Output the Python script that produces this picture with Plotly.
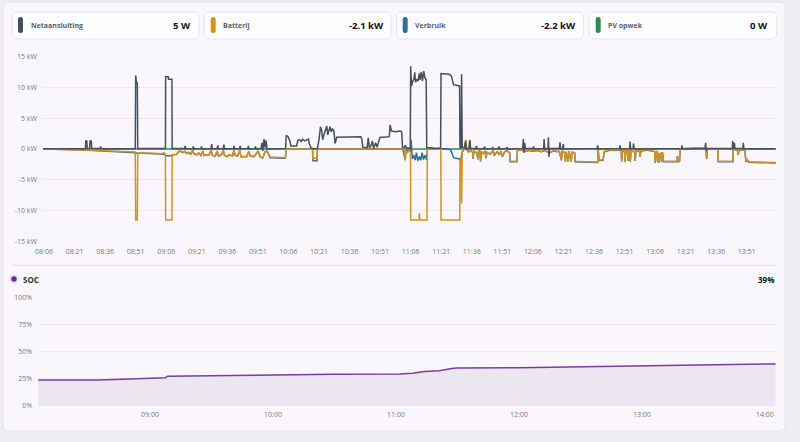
import plotly.graph_objects as go
import pandas as pd

# ---------------- data (time = minutes after 08:00) ----------------
BASE = pd.Timestamp("2024-05-01 08:00")

net_points = [
    (5.5, 0.05), (26.3, 0.05), (26.5, 1.3), (27.0, 1.3), (27.2, 0.1), (28.4, 0.1), (28.6, 1.3), (29.2, 1.3),
    (29.4, 0.1), (33.6, 0.1), (33.8, 0.4), (34.1, 0.05), (50.8, 0.05), (51.0, 11.9), (51.4, 10.7), (51.8, 10.7),
    (52.0, 0.1), (65.6, 0.1), (65.7, 11.7), (67.0, 11.7), (67.1, 11.3), (68.8, 11.3), (68.9, 0.1),
    (75.0, 0.1), (75.3, 0.5), (75.6, 0.0), (79.0, 0.1), (79.3, 0.4), (79.6, 0.0), (83.0, 0.1), (83.3, 0.4),
    (83.6, 0.0), (88.0, 0.1), (88.3, 0.8), (88.6, 0.0), (91.0, 0.1), (91.3, 0.6), (91.6, 0.0), (94.0, 0.1),
    (94.3, 0.7), (94.6, 0.0), (99.0, 0.1), (99.3, 0.5), (99.6, 0.0), (102.0, 0.1), (102.3, 0.5), (102.6, 0.0),
    (106.0, 0.1), (106.3, 0.5), (106.6, 0.0), (109.5, 0.1), (109.8, 0.4), (110.1, 0.0), (112.5, 0.1),
    (113.0, 1.0), (113.4, -0.3), (114.0, 1.6), (114.5, 0.2), (115.0, 1.4), (115.5, 0.0), (124.6, 0.1),
    (124.9, 2.2), (125.8, 2.0), (126.6, 1.4), (127.2, 0.5), (130.0, 0.5), (130.6, 1.4), (131.5, 1.5),
    (132.2, 1.2), (133.0, 1.6), (134.0, 1.3), (135.0, 1.5), (135.8, 1.6), (136.2, 0.9), (137.0, 0.2),
    (137.8, 0.05), (140.2, 0.1), (141.0, 1.5), (141.7, 3.6), (142.3, 3.0), (142.8, 1.5), (143.5, 2.4),
    (144.8, 3.7), (145.3, 2.3), (145.8, 3.0), (146.4, 3.6), (147.0, 2.8), (147.6, 3.3), (148.3, 2.9),
    (148.9, 0.9), (149.7, 1.9), (152.0, 1.9), (153.0, 2.0), (155.0, 1.9), (157.0, 2.0), (159.0, 1.9),
    (161.5, 2.0), (162.0, 1.6), (162.5, 0.3), (164.6, 0.2), (165.2, 1.8), (165.7, 0.2), (166.5, 0.5),
    (167.2, 1.3), (167.8, 0.1), (168.8, 1.0), (169.5, 0.3), (170.5, 1.4), (171.0, 1.9), (173.0, 1.9),
    (175.5, 2.0), (175.9, 3.9), (176.6, 2.9), (178.5, 2.8), (180.8, 2.9), (181.6, 2.8), (182.0, 0.2),
    (183.0, 0.3), (183.3, 0.6), (184.2, 0.1), (185.8, 0.2),
    (186.0, 13.4), (186.4, 10.2), (187.0, 11.0), (187.6, 11.3), (188.0, 12.4), (188.4, 10.8), (189.0, 11.3),
    (189.6, 11.0), (190.2, 12.2), (190.6, 11.2), (191.2, 12.5), (191.8, 11.0), (192.4, 12.6), (193.0, 11.5),
    (193.6, 11.2), (193.9, 0.2), (196.0, 0.2), (198.0, 0.1), (200.7, 0.15),
    (200.9, 12.2), (205.0, 12.1), (206.0, 11.8), (207.0, 10.4), (210.0, 10.2), (210.2, 0.2), (210.8, 0.2),
    (211.0, 12.1), (211.3, 0.3), (212.5, 0.2), (213.0, 1.2), (213.3, 0.0), (214.8, 0.1), (215.1, 1.4),
    (215.4, 0.1), (218.0, 0.1), (218.3, 0.5), (218.6, 0.0), (222.0, 0.1), (222.3, 0.4), (222.6, 0.0),
    (226.0, 0.1), (226.3, 0.3), (226.6, 0.0), (229.0, 0.1), (229.3, 0.4), (229.6, 0.0), (233.0, 0.1),
    (233.3, 0.3), (233.6, 0.0), (241.0, 0.1), (241.3, 1.6), (241.6, -0.6), (242.0, 1.0), (242.3, 0.1),
    (246.0, 0.1), (246.3, 0.4), (246.6, 0.0), (251.3, 0.1), (251.5, 1.6), (251.8, 0.0), (253.4, 0.1),
    (253.6, 1.9), (253.9, -1.3), (254.2, 0.1), (259.0, 0.1), (259.3, 1.1), (259.6, 0.0), (260.6, 0.1),
    (260.9, 0.8), (261.2, 0.0), (277.5, 0.1), (277.8, 0.6), (278.1, 0.0), (288.6, 0.1), (288.8, 0.6),
    (289.0, 0.0), (293.5, 0.1), (293.7, 1.2), (294.0, 0.0), (295.2, 0.1), (295.4, 0.9), (295.7, 0.0),
    (319.0, 0.1), (319.2, 0.6), (319.5, 0.0), (330.5, 0.1), (330.8, 1.0), (331.1, -0.3), (331.4, 0.1),
    (343.9, 0.1), (344.1, 1.3), (344.4, 0.0), (344.9, 1.0), (345.2, 0.1), (349.1, 0.1), (349.3, 1.0),
    (349.6, 0.0), (365.2, 0.05),
]

bat_points = [
    (5.5, 0.0), (10, -0.02), (15, -0.05), (20, -0.1), (25, -0.15), (30, -0.2), (35, -0.3), (40, -0.35),
    (45, -0.45), (50.8, -0.5), (51.0, -11.5), (51.8, -11.5), (52.0, -0.6), (56, -0.6), (60, -0.7),
    (64, -0.75), (65.0, -0.6), (65.6, -0.9), (65.7, -11.5), (68.8, -11.5), (68.9, -0.9), (71, -0.85),
    (72, -0.4), (73, -0.3), (74, -0.5), (75.2, -0.35), (76, -0.7), (77, -0.5), (78, -0.8), (79, -0.1),
    (79.5, -0.7), (81, -0.9), (82, -0.6), (83, -1.0), (84, -0.3), (84.5, -1.0), (86, -1.0), (87, -0.9),
    (88, -0.2), (88.6, -1.0), (90, -1.1), (91, -0.3), (91.6, -1.1), (93, -0.9), (94, -0.2), (94.6, -1.0),
    (96, -1.2), (97, -0.9), (98.5, -1.1), (99.2, -0.2), (99.8, -1.0), (101, -1.1), (102, -0.2),
    (102.7, -1.2), (105.5, -1.2), (106.5, -0.4), (107.2, -1.1), (109, -1.2), (110, -0.8), (111, -0.3),
    (112.3, -1.3), (113.4, -1.4), (114.5, -0.4), (115.5, -0.3), (117, -1.3), (120, -1.3), (124.5, -1.4),
    (124.8, 0.0), (137.8, 0.0), (138.0, -1.5), (140.0, -1.5), (140.2, 0.0), (182.2, 0.0), (183.0, -0.3),
    (183.3, -1.8), (183.7, -0.3), (184.5, -0.6), (185.0, -0.2), (185.9, -0.5),
    (186.0, -11.5), (190.1, -11.5), (190.3, -10.4), (190.5, -11.5), (194.0, -11.5), (194.2, 0.0),
    (200.8, 0.0), (200.9, -11.5), (210.1, -11.5), (210.2, -2.0), (210.7, -1.5), (211.0, -8.8),
    (211.3, -0.5), (212.5, 0.2), (213.0, 1.5), (213.5, 0.0), (214.5, -0.5), (215.0, 1.5), (215.4, -0.3),
    (216.4, -0.4), (216.6, -1.5), (217.0, -0.3), (218.5, -0.6), (219.0, -1.6), (219.4, -0.2), (220.0, -0.3),
    (220.3, -1.9), (220.6, -0.4), (221.5, -0.7), (222.5, -0.3), (223.0, -1.4), (223.4, -0.5), (225.0, -0.8),
    (226.5, -0.2), (227.0, -1.0), (228.5, -0.4), (229.5, -0.9), (230.3, -0.3), (231.0, -1.2), (232.0, -0.5),
    (233.0, -0.2), (234.6, -0.6), (234.8, -2.0), (238.2, -2.0), (238.4, -0.2), (240.0, -0.1), (242.0, -0.4),
    (244.0, -0.2), (246.0, -0.3), (248.0, -0.2), (250.0, -0.4), (252.0, -0.2), (254.0, -0.6), (256.0, -0.3),
    (259.0, -0.4), (260.0, -1.8), (260.4, -0.3), (261.5, -0.5), (262.0, -2.0), (262.4, -0.4), (263.3, -2.0),
    (263.7, -0.3), (264.8, -2.0), (265.2, -0.5), (266.5, -0.6), (266.7, -2.0), (272.0, -2.05), (277.8, -2.1),
    (278.0, 0.0), (278.5, -1.8), (280.5, -1.7), (281.0, -0.4), (282.2, -0.3), (284.0, -0.1), (286.0, -0.2),
    (288.5, -0.1), (289.4, -0.3), (289.6, -2.0), (290.0, -0.3), (291.0, -0.2), (291.2, -2.0), (291.6, -0.2),
    (292.4, -0.3), (292.6, -1.9), (293.0, -0.3), (293.6, -0.2), (293.8, -2.0), (294.2, -0.3), (296.0, -0.4),
    (296.2, -1.9), (296.6, -0.2), (298.3, -0.3), (298.6, -1.2), (299.0, -0.3), (302.0, -0.1), (305.0, -0.3),
    (305.8, -0.4), (306.0, -2.2), (306.4, -0.5), (307.0, -0.4), (307.2, -2.1), (307.6, -0.6), (308.0, -2.2),
    (308.4, -0.8), (309.0, -0.6), (309.2, -2.1), (309.6, -0.5), (310.2, -2.0), (315.0, -2.0), (316.6, -2.0),
    (317.0, -1.1), (317.4, -2.0), (318.0, -1.9), (318.3, 0.0), (320.0, 0.1), (324.0, 0.2), (328.0, 0.2),
    (331.0, 0.1), (331.3, -1.5), (331.7, 0.0), (336.8, 0.0), (337.0, -2.0), (344.2, -2.0), (344.4, 0.0),
    (346.5, -0.2), (346.8, -0.9), (347.2, -0.1), (349.5, -0.1), (350.1, -0.3), (350.6, -2.0), (351.0, -1.6),
    (351.8, -2.05), (358.0, -2.1), (365.2, -2.2),
]

verb_points = [
    (5.5, -0.02), (15, -0.07), (25, -0.17), (35, -0.32), (45, -0.48), (50.8, -0.55), (51.0, -0.6),
    (51.8, -0.7), (52.0, -0.65), (60, -0.75), (64, -0.8), (65.6, -0.95), (65.7, -1.1), (68.8, -1.1),
    (68.9, -0.95), (71, -0.9), (72, -0.45), (73, -0.35), (74, -0.55), (75.2, -0.4), (76, -0.75), (77, -0.55),
    (78, -0.85), (79, -0.15), (79.5, -0.75), (81, -0.95), (82, -0.65), (83, -1.05), (84, -0.35),
    (84.5, -1.05), (86, -1.05), (87, -0.95), (88, -0.25), (88.6, -1.05), (90, -1.15), (91, -0.35),
    (91.6, -1.15), (93, -0.95), (94, -0.25), (94.6, -1.05), (96, -1.25), (97, -0.95), (98.5, -1.15),
    (99.2, -0.25), (99.8, -1.05), (101, -1.15), (102, -0.25), (102.7, -1.25), (105.5, -1.25), (106.5, -0.45),
    (107.2, -1.15), (109, -1.25), (110, -0.85), (111, -0.35), (112.3, -1.35), (113.4, -1.45), (114.5, -0.45),
    (115.5, -0.35), (117, -1.4), (120, -1.4), (124.5, -1.5), (124.8, 0.0),
    (137.8, 0.0), (138.0, -1.9), (140.0, -1.9), (140.2, 0.0), (182.2, 0.0), (183.3, -1.8), (183.7, -0.3),
    (185.0, -0.2), (185.9, -0.4), (186.2, 1.5), (186.8, -1.6), (187.5, -1.0), (188.2, -1.8), (188.8, -0.6),
    (189.5, -1.9), (190.3, -1.2), (191.0, -1.8), (191.6, -0.6), (192.3, -1.7), (193.0, -1.0), (193.8, -1.8),
    (194.2, 0.1), (200.9, 0.1), (205.0, 0.0), (206.0, -0.4), (207.0, -1.4), (210.0, -1.6), (210.2, -1.9),
    (210.7, -1.5), (211.0, -1.0),
    (211.3, -0.55), (212.5, 0.1), (213.0, 1.4), (213.5, -0.05), (214.5, -0.55), (215.0, 1.4), (215.4, -0.35),
    (216.4, -0.45), (216.6, -1.6), (217.0, -0.35), (218.5, -0.65), (219.0, -1.7), (219.4, -0.25),
    (220.0, -0.35), (220.3, -2.0), (220.6, -0.45), (221.5, -0.75), (222.5, -0.35), (223.0, -1.5),
    (223.4, -0.55), (225.0, -0.85), (226.5, -0.25), (227.0, -1.05), (228.5, -0.45), (229.5, -0.95),
    (230.3, -0.35), (231.0, -1.25), (232.0, -0.55), (233.0, -0.25), (234.6, -0.65), (234.8, -2.08),
    (238.2, -2.08), (238.4, -0.25), (240.0, -0.15), (242.0, -0.45), (244.0, -0.25), (246.0, -0.35),
    (248.0, -0.25), (250.0, -0.45), (252.0, -0.25), (254.0, -0.65), (256.0, -0.35), (259.0, -0.45),
    (260.0, -1.85), (260.4, -0.35), (261.5, -0.55), (262.0, -2.05), (262.4, -0.45), (263.3, -2.05),
    (263.7, -0.35), (264.8, -2.05), (265.2, -0.55), (266.5, -0.65), (266.7, -2.08), (272.0, -2.13),
    (277.8, -2.18), (278.0, -0.05), (278.5, -1.88), (280.5, -1.78), (281.0, -0.45), (282.2, -0.35),
    (284.0, -0.15), (286.0, -0.25), (288.5, -0.15), (289.4, -0.35), (289.6, -2.05), (290.0, -0.35),
    (291.0, -0.25), (291.2, -2.05), (291.6, -0.25), (292.4, -0.35), (292.6, -1.95), (293.0, -0.35),
    (293.6, -0.25), (293.8, -2.05), (294.2, -0.35), (296.0, -0.45), (296.2, -1.95), (296.6, -0.25),
    (298.3, -0.35), (298.6, -1.25), (299.0, -0.35), (302.0, -0.15), (305.0, -0.35), (305.8, -0.45),
    (306.0, -2.25), (306.4, -0.55), (307.0, -0.45), (307.2, -2.15), (307.6, -0.65), (308.0, -2.25),
    (308.4, -0.85), (309.0, -0.65), (309.2, -2.15), (309.6, -0.55), (310.2, -2.08), (315.0, -2.08),
    (316.6, -2.08), (317.0, -1.15), (317.4, -2.08), (318.0, -1.98), (318.3, -0.05), (320.0, 0.05),
    (324.0, 0.15), (328.0, 0.15), (331.0, 0.05), (331.3, -1.6), (331.7, -0.05), (336.8, -0.05),
    (337.0, -2.08), (344.2, -2.08), (344.4, -0.05), (346.5, -0.25), (346.8, -0.95), (347.2, -0.15),
    (349.5, -0.15), (350.1, -0.35), (350.6, -2.08), (351.0, -1.65), (351.8, -2.13), (358.0, -2.18),
    (365.2, -2.28),
]

pv_points = [(5.5, 0.0), (365.2, 0.0)]

soc_points = [
    (5.5, 23.9), (35, 24.0), (50, 24.8), (60, 25.5), (67.5, 26.0), (68.5, 27.4), (90, 28.0), (120, 28.7),
    (150, 29.2), (182, 29.4), (186, 29.5), (188, 30.2), (194, 31.8), (196, 32.1), (201, 32.4), (208, 34.8),
    (210, 35.0), (240, 35.3), (270, 36.0), (300, 36.7), (330, 37.5), (365.2, 38.8),
]

header_labels = ["Netaansluiting", "Batterij", "Verbruik", "PV opwek"]
header_values = ["5 W", "-2.1 kW", "-2.2 kW", "0 W"]
header_colors = ["#454f5e", "#d4911e", "#2c6f98", "#2e8a56"]
soc_label = "SOC"
soc_value = "39%"

kw_ticks = [15, 10, 5, 0, -5, -10, -15]
kw_ticktext = [f"{v} kW" for v in kw_ticks]
pct_ticks = [0, 25, 50, 75, 100]
pct_ticktext = [f"{v}%" for v in pct_ticks]

# ---------------- helpers ----------------
W, H = 800, 442


def tm(minutes):
    return [BASE + pd.Timedelta(minutes=m) for m in minutes]


def split(points):
    return tm([p[0] for p in points]), [p[1] for p in points]


def px(x):
    return x / W


def py(y):
    return 1 - y / H


def rr(x0, y0, x1, y1, r):
    def P(x, y):
        return f"{px(x):.5f},{py(y):.5f}"
    return (f"M {P(x0 + r, y0)} L {P(x1 - r, y0)} Q {P(x1, y0)} {P(x1, y0 + r)} "
            f"L {P(x1, y1 - r)} Q {P(x1, y1)} {P(x1 - r, y1)} L {P(x0 + r, y1)} "
            f"Q {P(x0, y1)} {P(x0, y1 - r)} L {P(x0, y0 + r)} Q {P(x0, y0)} {P(x0 + r, y0)} Z")


FONT = "Open Sans"
CARD = "#faf7fc"

fig = go.Figure()

for pts, col in [(pv_points, "#2e8a56"), (verb_points, "#2c6f98"), (bat_points, "#d4911e"),
                 (net_points, "#454f5e")]:
    x, y = split(pts)
    fig.add_trace(go.Scatter(x=x, y=y, mode="lines", line=dict(color=col, width=1.5),
                             xaxis="x", yaxis="y", hoverinfo="skip"))

sx, sy = split(soc_points)
fig.add_trace(go.Scatter(x=sx, y=sy, mode="lines", line=dict(color="#7b3c9b", width=1.5),
                         fill="tozeroy", fillcolor="#ece6f1", xaxis="x2", yaxis="y2", hoverinfo="skip"))

shapes = []
# card
shapes.append(dict(type="path", path=rr(3, 2, 785, 431, 6), xref="paper", yref="paper",
                   fillcolor=CARD, line=dict(color="#e6e1ea", width=1), layer="below"))
# header boxes
boxes = [(12.3, 199), (204.3, 391), (396.5, 583.3), (589.3, 776.7)]
pills = [18, 210.7, 402.7, 595.7]
label_x = [29, 221, 413, 606]
value_x = [193, 385.7, 577.7, 770]
annotations = []
for i in range(4):
    bx0, bx1 = boxes[i]
    shapes.append(dict(type="path", path=rr(bx0, 12, bx1, 39, 5), xref="paper", yref="paper",
                       fillcolor="#fefdff", line=dict(color="#e8e2ee", width=1), layer="below"))
    shapes.append(dict(type="path", path=rr(pills[i], 17, pills[i] + 5, 33, 2.5), xref="paper",
                       yref="paper", fillcolor=header_colors[i], line=dict(width=0), layer="above"))
    annotations.append(dict(text=f"<b>{header_labels[i]}</b>", x=px(label_x[i]), y=py(25.5),
                            xref="paper", yref="paper", xanchor="left", yanchor="middle", showarrow=False,
                            font=dict(family=FONT, size=7, color="#5a5f6b")))
    annotations.append(dict(text=f"<b>{header_values[i]}</b>", x=px(value_x[i]), y=py(25.5),
                            xref="paper", yref="paper", xanchor="right", yanchor="middle", showarrow=False,
                            font=dict(family=FONT, size=9.5, color="#111111")))

# separator
shapes.append(dict(type="line", x0=px(12), x1=px(777), y0=py(265.3), y1=py(265.3), xref="paper",
                   yref="paper", line=dict(color="#e4ddea", width=1), layer="below"))
# SOC legend dot
shapes.append(dict(type="circle", x0=px(9), x1=px(19), y0=py(284), y1=py(274), xref="paper", yref="paper",
                   fillcolor="#ebe2f2", line=dict(width=0), layer="above"))
shapes.append(dict(type="circle", x0=px(11.3), x1=px(16.7), y0=py(281.7), y1=py(276.3), xref="paper",
                   yref="paper", fillcolor="#6a2c8e", line=dict(width=0), layer="above"))
annotations.append(dict(text=f"<b>{soc_label}</b>", x=px(20.5), y=py(279), xref="paper", yref="paper",
                        xanchor="left", yanchor="middle", showarrow=False,
                        font=dict(family=FONT, size=8, color="#333333")))
annotations.append(dict(text=f"<b>{soc_value}</b>", x=px(776), y=py(279), xref="paper", yref="paper",
                        xanchor="right", yanchor="middle", showarrow=False,
                        font=dict(family=FONT, size=8, color="#111111")))

tickfont = dict(family=FONT, size=7, color="#777780")
gridc = "#ede8f1"

fig.update_layout(
    width=W, height=H, margin=dict(l=0, r=0, t=0, b=0, autoexpand=False),
    paper_bgcolor="#efecf3", plot_bgcolor="rgba(0,0,0,0)", showlegend=False,
    shapes=shapes, annotations=annotations,
    xaxis=dict(domain=[px(42), px(776)], anchor="y", type="date", automargin=False,
               range=tm([5.0, 365.35]), tick0=tm([6])[0], dtick=900000, tickformat="%H:%M",
               showgrid=False, zeroline=False, showline=False, ticks="", tickfont=tickfont,
               ticklabelstandoff=4),
    yaxis=dict(domain=[py(242), py(56)], anchor="x", range=[-15.05, 15.05], tickvals=kw_ticks,
               ticktext=kw_ticktext, showgrid=True, gridcolor=gridc, gridwidth=1, zeroline=False,
               automargin=False, showline=False, ticks="", tickfont=tickfont, ticklabelstandoff=4),
    xaxis2=dict(domain=[px(38), px(776)], anchor="y2", type="date", automargin=False,
                range=tm([5.37, 365.4]), tick0=tm([60])[0], dtick=3600000, tickformat="%H:%M",
                showgrid=False, zeroline=False, showline=False, ticks="", tickfont=tickfont,
                ticklabelstandoff=3),
    yaxis2=dict(domain=[py(406), py(297)], anchor="x2", range=[0, 100.4], tickvals=pct_ticks,
                ticktext=pct_ticktext, showgrid=True, gridcolor=gridc, gridwidth=1, zeroline=False,
                automargin=False, showline=False, ticks="", tickfont=tickfont, ticklabelstandoff=5),
)

fig.write_html("out.html")
